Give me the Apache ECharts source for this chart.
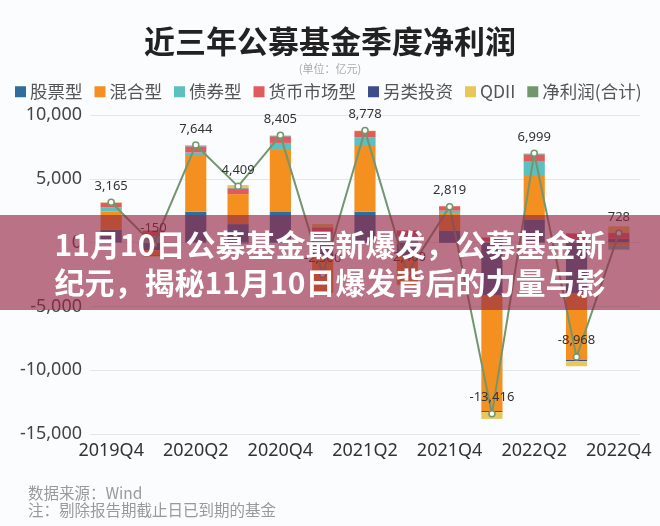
<!DOCTYPE html>
<html>
<head>
<meta charset="utf-8">
<script src="https://cdn.jsdelivr.net/npm/echarts@6/dist/echarts.min.js"></script>
<style>
html,body{margin:0;padding:0;background:#fbfcfe;}
#main{width:660px;height:526px;}
</style>
</head>
<body>
<div id="main"></div>
<script>
const categories = ['2019Q4','2020Q1','2020Q2','2020Q3','2020Q4','2021Q1','2021Q2','2021Q3','2021Q4','2022Q1','2022Q2','2022Q3','2022Q4'];
const stockFund = [1000, -600, 2420, 1450, 2400, -1000, 2420, -1000, 950, -4100, 1770, -3950, 300];
const mixedFund = [1450, -400, 4440, 2350, 4860, -2950, 5230, -2300, 1300, -9100, 3530, -5250, -200];
const bondFund  = [300, 500, 200, -100, 550, 650, 600, 500, 250, 100, 1040, 200, -350];
const moneyFund = [350, 450, 450, 420, 470, 520, 470, 450, 350, 300, 525, 520, 450];
const altFund   = [20, -50, 40, 40, 50, 30, 28, 0, -31, -80, 50, -88, 30];
const qdiiFund  = [45, -50, 94, 249, 75, 250, 30, -50, 0, -536, 84, -400, 498];
const netProfit = [3165, -150, 7644, 4409, 8405, -2500, 8778, -2400, 2819, -13416, 6999, -8968, 728];
const yTicks = { min: -15000, max: 10000, interval: 5000 };

const seriesNames = ['股票型','混合型','债券型','货币市场型','另类投资','QDII'];
const seriesData = [stockFund, mixedFund, bondFund, moneyFund, altFund, qdiiFund];
const colors = ['#2f6d9c','#f39020','#5cbfc0','#e05b5e','#3d4d8a','#e8c75a'];
const lineColor = '#74966e';

const fmt = v => {
  const n = Math.round(v);
  return (n < 0 ? '-' : '') + Math.abs(n).toString().replace(/\B(?=(\d{3})+(?!\d))/g, ',');
};

const chart = echarts.init(document.getElementById('main'));
const numFont = "'Noto Sans', 'Noto Sans CJK SC', sans-serif";
const cjkFont = "'Noto Sans CJK SC', sans-serif";

const series = seriesNames.map((name, i) => ({
  name: name,
  type: 'bar',
  stack: 'total',
  barWidth: '50%',
  data: seriesData[i],
  itemStyle: { color: colors[i] },
  emphasis: { disabled: true }
}));
series.push({
  name: '净利润(合计)',
  type: 'line',
  data: netProfit,
  z: 5,
  symbol: 'circle',
  symbolSize: 6,
  lineStyle: { color: lineColor, width: 2 },
  itemStyle: { color: '#ffffff', borderColor: lineColor, borderWidth: 1.5 },
  label: {
    show: true, position: 'top', distance: 6,
    color: '#333', fontSize: 13, fontFamily: numFont,
    formatter: p => fmt(p.value)
  }
});

chart.setOption({
  backgroundColor: '#fbfcfe',
  animation: false,
  title: {
    text: '近三年公募基金季度净利润',
    left: 'center', top: 21,
    textStyle: { fontSize: 31, fontWeight: 'bold', color: '#222', fontFamily: cjkFont }
  },
  legend: {
    left: 10, top: 78,
    itemWidth: 11, itemHeight: 11, itemGap: 12,
    icon: 'rect',
    textStyle: { fontSize: 17.5, color: '#555', fontFamily: cjkFont, padding: [0,0,0,-1] },
    data: seriesNames.concat(['净利润(合计)']).map((n, i) => ({ name: n, itemStyle: i === 6 ? { color: lineColor, borderWidth: 0 } : undefined }))
  },
  grid: { left: 90, right: 20, top: 115, bottom: 92, containLabel: false },
  xAxis: {
    type: 'category',
    data: categories,
    axisLine: { show: false },
    axisTick: { show: false },
    axisLabel: { interval: 1, fontSize: 18, color: '#333', fontFamily: numFont, margin: 8 }
  },
  yAxis: {
    type: 'value',
    min: yTicks.min, max: yTicks.max, interval: yTicks.interval,
    axisLine: { show: false },
    axisTick: { show: false },
    splitLine: { lineStyle: { color: '#e6e6e8', width: 1 } },
    axisLabel: { fontSize: 18, color: '#444', fontFamily: numFont, margin: 8, formatter: v => fmt(v) }
  },
  graphic: [
    { type: 'text', left: 'center', top: 63, style: { text: '(单位：亿元)', fill: '#aaa', font: "11px 'Noto Sans CJK SC', sans-serif" } },
    { type: 'rect', left: 0, top: 215, z: 100, shape: { width: 660, height: 95 }, style: { fill: 'rgba(150,40,70,0.65)' } },
    { type: 'text', left: 'center', top: 230, z: 101, style: { text: '11月10日公募基金最新爆发，公募基金新', fill: '#fff', font: "bold 30px 'Noto Sans CJK SC', sans-serif" } },
    { type: 'text', left: 'center', top: 268, z: 101, style: { text: '纪元，揭秘11月10日爆发背后的力量与影', fill: '#fff', font: "bold 30px 'Noto Sans CJK SC', sans-serif" } },
    { type: 'text', left: 28, top: 485, style: { text: '数据来源：Wind', fill: '#999', font: "15.5px 'Noto Sans CJK SC', sans-serif" } },
    { type: 'text', left: 28, top: 502, style: { text: '注：剔除报告期截止日已到期的基金', fill: '#999', font: "15.5px 'Noto Sans CJK SC', sans-serif" } }
  ],
  series: series
});
</script>
</body>
</html>
